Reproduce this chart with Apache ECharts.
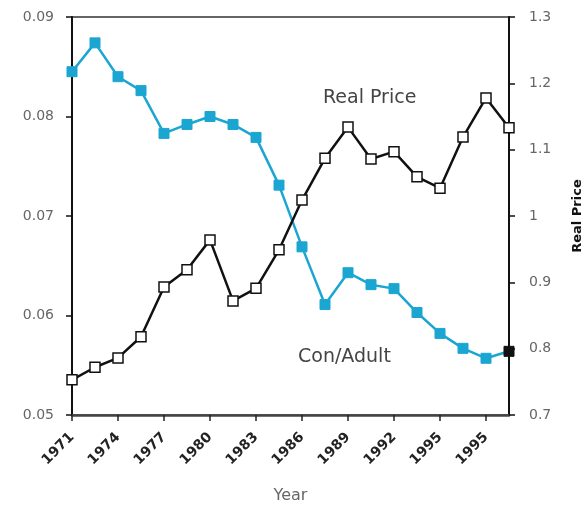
<!DOCTYPE html>
<html>
<head>
<meta charset="utf-8">
<script src="https://cdn.jsdelivr.net/npm/echarts@6/dist/echarts.min.js"></script>
<style>html,body{margin:0;padding:0;background:#fff;overflow:hidden}#c{width:585px;height:505px}</style>
</head>
<body>
<div id="c"></div>
<script>
var categories = ['1971','1972','1974','1975','1977','1978','1980','1981','1983','1984','1986','1987','1989','1990','1992','1993','1995','1996','1995','1999'];
var realPrice = [0.753,0.772,0.786,0.818,0.893,0.919,0.964,0.872,0.891,0.949,1.024,1.087,1.134,1.086,1.097,1.059,1.042,1.119,1.178,1.133];
var conAdult = [0.0845,0.0874,0.0840,0.0826,0.0783,0.0792,0.0800,0.0792,0.0779,0.0731,0.0669,0.0611,0.0643,0.0631,0.0627,0.0603,0.0582,0.0567,0.0557,0.0564];
var leftTicks = {min:0.05, max:0.09, interval:0.01};
var rightTicks = {min:0.7, max:1.3, interval:0.1};

var chart = echarts.init(document.getElementById('c'), null, {renderer:'canvas'});
var font = 'DejaVu Sans';
var conData = conAdult.map(function(v,i){
  return i === conAdult.length-1 ? {value:v, itemStyle:{color:'#111', borderColor:'#111'}} : v;
});
chart.setOption({
  animation:false,
  backgroundColor:'#fff',
  grid:{left:72, right:76, top:17, bottom:90, show:true, borderColor:'#666', borderWidth:2, containLabel:false, outerBoundsMode:'none'},
  xAxis:{
    type:'category', data:categories, boundaryGap:false,
    name:'Year', nameLocation:'middle', nameGap:73,
    nameTextStyle:{color:'#666', fontSize:16, fontFamily:font},
    axisLine:{lineStyle:{color:'#444', width:2.5}},
    axisTick:{interval:1, length:6, lineStyle:{color:'#222', width:1.5}},
    axisLabel:{interval:1, rotate:45, margin:20, color:'#222', fontSize:14, fontFamily:font, fontWeight:'bold'},
    splitLine:{show:false}
  },
  yAxis:[{
    type:'value', position:'left', min:leftTicks.min, max:leftTicks.max, interval:leftTicks.interval,
    axisLine:{show:true, lineStyle:{color:'#111', width:2}},
    axisTick:{show:true, length:6, lineStyle:{color:'#111', width:1.5}},
    axisLabel:{margin:18, color:'#666', fontSize:14, fontFamily:font, formatter:function(v){return v.toFixed(2);}},
    splitLine:{show:false}
  },{
    type:'value', position:'right', min:rightTicks.min, max:rightTicks.max, interval:rightTicks.interval,
    name:'Real Price', nameLocation:'middle', nameGap:62, nameRotate:90,
    nameTextStyle:{color:'#111', fontSize:13, fontWeight:'bold', fontFamily:font},
    axisLine:{show:true, lineStyle:{color:'#111', width:2}},
    axisTick:{show:true, length:6, lineStyle:{color:'#111', width:1.5}},
    axisLabel:{margin:20, color:'#666', fontSize:14, fontFamily:font, formatter:function(v){return String(Math.round(v*10)/10);}},
    splitLine:{show:false}
  }],
  series:[{
    name:'Con/Adult', type:'line', yAxisIndex:0, data:conData,
    symbol:'rect', symbolSize:10,
    lineStyle:{color:'#1ba6d2', width:2.5},
    itemStyle:{color:'#1ba6d2', borderColor:'#1ba6d2', borderWidth:1},
    z:2
  },{
    name:'Real Price', type:'line', yAxisIndex:1, data:realPrice,
    symbol:'rect', symbolSize:10,
    lineStyle:{color:'#111', width:2.5},
    itemStyle:{color:'#fff', borderColor:'#111', borderWidth:1.5},
    z:3
  }],
  graphic:[
    {type:'text', left:323, top:89, style:{text:'Real Price', fill:'#444', font:'19px "DejaVu Sans"'}},
    {type:'text', left:298, top:348, style:{text:'Con/Adult', fill:'#444', font:'19px "DejaVu Sans"'}}
  ]
});
</script>
</body>
</html>
